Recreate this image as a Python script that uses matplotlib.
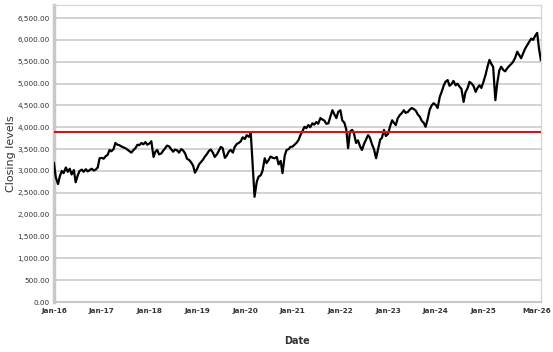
import matplotlib
matplotlib.use("Agg")
import matplotlib.pyplot as plt
import matplotlib.dates as mdates
import matplotlib.transforms as mtransforms
from matplotlib.ticker import FuncFormatter, MultipleLocator
import numpy as np
import pandas as pd

levels_2016 = [3180, 2850, 2700, 2880, 3000, 2950, 3080, 2980, 3050, 2920, 3020, 2740,
               2900, 3000, 3030, 2980, 3040, 2990, 3020, 3050, 3010, 3030, 3080, 3290]
levels_2017 = [3300, 3280, 3340, 3370, 3480, 3450, 3500, 3640, 3600, 3590, 3560, 3540,
               3520, 3490, 3450, 3420, 3480, 3520, 3600, 3590, 3640, 3610, 3660, 3600]
levels_2018 = [3630, 3680, 3320, 3440, 3480, 3380, 3400, 3460, 3520, 3580, 3560, 3500,
               3440, 3490, 3470, 3420, 3500, 3470, 3400, 3280, 3250, 3200, 3120, 2960]
levels_2019 = [3050, 3150, 3210, 3260, 3330, 3380, 3460, 3490, 3420, 3320, 3380, 3460,
               3550, 3520, 3300, 3350, 3450, 3480, 3420, 3550, 3620, 3640, 3680, 3770]
levels_2020 = [3730, 3820, 3780, 3870, 3100, 2410, 2750, 2870, 2900, 3000, 3290, 3180,
               3250, 3330, 3300, 3290, 3320, 3150, 3230, 2950, 3350, 3480, 3500, 3550]
levels_2021 = [3560, 3600, 3650, 3710, 3820, 3900, 4010, 3980, 4050, 4000, 4090, 4060,
               4120, 4080, 4210, 4180, 4150, 4080, 4090, 4230, 4390, 4300, 4210, 4350]
levels_2022 = [4390, 4160, 4100, 3950, 3520, 3900, 3940, 3860, 3640, 3700, 3560, 3480,
               3620, 3710, 3820, 3760, 3600, 3500, 3290, 3480, 3710, 3760, 3940, 3800]
levels_2023 = [3850, 4010, 4160, 4100, 4050, 4200, 4280, 4320, 4390, 4330, 4350, 4400,
               4440, 4420, 4380, 4300, 4240, 4150, 4100, 4010, 4200, 4400, 4500, 4550]
levels_2024 = [4510, 4440, 4700, 4810, 4950, 5040, 5080, 4950, 4990, 5060, 4960, 5000,
               4930, 4880, 4580, 4800, 4900, 5040, 5000, 4950, 4810, 4900, 4960, 4900]
levels_2025 = [5050, 5190, 5400, 5540, 5450, 5385, 4620, 5000, 5300, 5385, 5310, 5280,
               5350, 5400, 5450, 5500, 5600, 5730, 5650, 5580, 5700, 5800, 5880, 5950]
levels_2026 = [6030, 6000, 6100, 6160, 5800, 5540]

reference_level = 3890

levels = (levels_2016 + levels_2017 + levels_2018 + levels_2019 + levels_2020 +
          levels_2021 + levels_2022 + levels_2023 + levels_2024 + levels_2025 + levels_2026)
dates = pd.date_range("2016-01-01", periods=len(levels), freq="SMS")

fig = plt.figure(figsize=(5.53, 3.52), dpi=100)
ax = fig.add_axes([0.0976, 0.142, 0.8804, 0.844])

ax.plot(dates, levels, color="black", lw=1.6, zorder=3)
ax.axhline(reference_level, color="#e01010", lw=1.5, zorder=4)

ax.set_ylim(0, 6800)
ax.set_xlim(dates[0], dates[-1])
ax.yaxis.set_major_locator(MultipleLocator(500))
ax.yaxis.set_major_formatter(FuncFormatter(lambda v, p: f"{v:,.2f}" if v <= 6500 else ""))

xticks = [pd.Timestamp(f"{y}-01-01") for y in range(2016, 2026)] + [dates[-1]]
ax.set_xticks(xticks)
ax.xaxis.set_major_formatter(mdates.DateFormatter("%b-%y"))

ax.grid(axis="y", color="#cfcfcf", lw=1.3)
ax.set_axisbelow(True)
ax.tick_params(length=0, colors="#333333")
ax.tick_params(axis="y", labelsize=5.2, pad=3)
ax.tick_params(axis="x", labelsize=5.2, pad=4)
xlabels = ax.get_xticklabels()
for lbl in xlabels:
    lbl.set_fontweight("bold")
# keep the last date label inside the figure
xlabels[-1].set_transform(xlabels[-1].get_transform() +
                          mtransforms.ScaledTranslation(-4 / 100, 0, fig.dpi_scale_trans))

for side in ["top", "right"]:
    ax.spines[side].set_color("#d8d8d8")
    ax.spines[side].set_linewidth(1.0)
ax.spines["left"].set_color("#c8c8c8")
ax.spines["left"].set_linewidth(2.5)
ax.spines["bottom"].set_color("#c8c8c8")
ax.spines["bottom"].set_linewidth(1.5)

ax.set_ylabel("Closing levels", fontsize=8, color="#333333", labelpad=1)
ax.set_xlabel("Date", fontsize=7, fontweight="bold", color="#333333", labelpad=16)

fig.savefig("out.png", dpi=100)
